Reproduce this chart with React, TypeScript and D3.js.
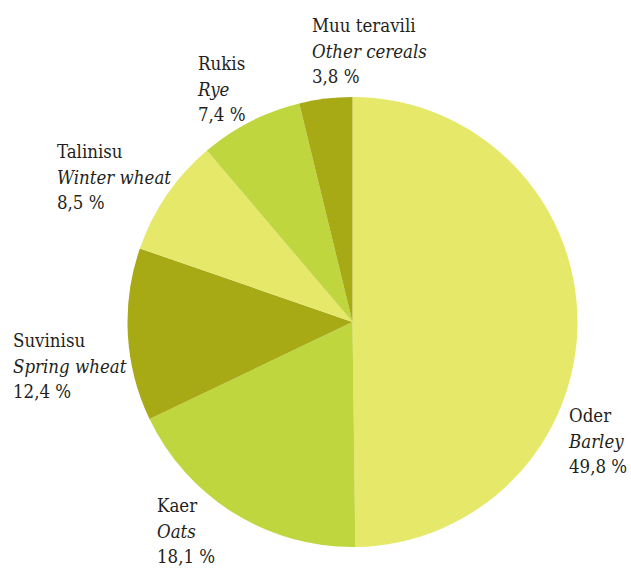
import React from 'react';
import * as d3 from 'd3';

// share of sown area, %, clockwise from 12 o'clock
const names = ['Oder', 'Kaer', 'Suvinisu', 'Talinisu', 'Rukis', 'Muu teravili'];
const namesEn = ['Barley', 'Oats', 'Spring wheat', 'Winter wheat', 'Rye', 'Other cereals'];
const shares = [49.8, 18.1, 12.4, 8.5, 7.4, 3.8];
const shareLabels = ['49,8 %', '18,1 %', '12,4 %', '8,5 %', '7,4 %', '3,8 %'];
const colors = ['#e6e86a', '#bfd63f', '#a7a915', '#e6e86a', '#bfd63f', '#a7a915'];

// top-left anchor of each label block (x, first baseline)
const labelPos: [number, number][] = [
  [569, 422],
  [157, 512],
  [13, 347],
  [57, 158],
  [198, 70],
  [312, 32],
];

const W = 631;
const H = 570;
const cx = 352.5;
const cy = 322;
const radius = 225;
const lineH = 25.5;

export default function App() {
  const pie = d3.pie<number>().sort(null).value(d => d);
  const arcs = pie(shares);
  const arc = d3.arc<d3.PieArcDatum<number>>().innerRadius(0).outerRadius(radius);

  return (
    <svg
      width={W}
      height={H}
      style={{
        position: 'absolute',
        left: 0,
        top: 0,
        background: '#fff',
        fontFamily: '"DejaVu Serif Condensed", "DejaVu Serif", serif',
        fontStretch: 'condensed',
        fontSize: 18.5,
      }}
    >
      <g transform={`translate(${cx},${cy})`}>
        {arcs.map((a, i) => (
          <path key={i} d={arc(a) || ''} fill={colors[i]} />
        ))}
      </g>
      {names.map((n, i) => {
        const [x, y] = labelPos[i];
        return (
          <text key={n} x={x} y={y} fill="#231f20">
            <tspan x={x} y={y}>{n}</tspan>
            <tspan x={x} y={y + lineH} fontStyle="italic">{namesEn[i]}</tspan>
            <tspan x={x} y={y + lineH * 2}>{shareLabels[i]}</tspan>
          </text>
        );
      })}
    </svg>
  );
}
